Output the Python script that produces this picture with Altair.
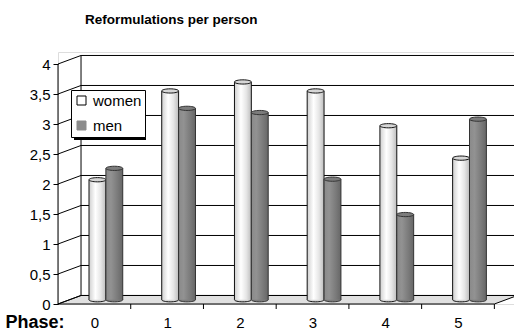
import altair as alt
import pandas as pd

# ---- data -------------------------------------------------------------
phases = [0, 1, 2, 3, 4, 5]
women = [2.00, 3.48, 3.63, 3.48, 2.90, 2.36]
men = [2.19, 3.19, 3.12, 2.01, 1.42, 3.01]
series = ["women", "men"]
y_ticks = [0, 0.5, 1, 1.5, 2, 2.5, 3, 3.5, 4]

# ---- geometry of the pseudo-3D frame ----------------------------------
W, H = 456, 252
X_MIN, X_MAX = -0.5, 5.77
Y_MAX = 4.2
DX = 0.3166          # depth offset along x (category units)
DY = 0.142           # depth offset along y (value units)
BAR_W = 0.232
SHIFT = DX / 2       # bars stand half way into the depth
BASE = DY / 2
X_END = phases[-1] + 0.5
FONT = "Liberation Sans"

xs = alt.Scale(domain=[X_MIN, X_MAX], nice=False, zero=False)
ys = alt.Scale(domain=[0, Y_MAX], nice=False, zero=False)

# one axis definition per channel, shared by every layer
X_AXIS = alt.Axis(
    values=phases, format="d", ticks=False, domain=False, grid=False,
    labelFont=FONT, labelFontSize=15, labelColor="black",
    labelBaseline="alphabetic", labelPadding=23,
    title="Phase:", titleFont=FONT, titleFontSize=18, titleFontWeight="bold",
    titleColor="black", titleAlign="left", titleBaseline="alphabetic",
    titleX=-53, titleY=23)
Y_AXIS = alt.Axis(
    values=y_ticks, domain=False, grid=False, tickSize=5, tickColor="black",
    labelExpr="replace(format(datum.value, '.1~f'), '.', ',')",
    labelFont=FONT, labelFontSize=15, labelColor="black", labelPadding=3,
    title=None)


def X(field):
    return alt.X(field, scale=xs, axis=X_AXIS)


def Y(field):
    return alt.Y(field, scale=ys, axis=Y_AXIS)


# bar table
rows = []
for i, p in enumerate(phases):
    for s, vals in (("women", women), ("men", men)):
        v = vals[i]
        x0 = p + SHIFT - BAR_W if s == "women" else p + SHIFT
        rows.append({"phase": p, "series": s, "value": v,
                     "x0": x0, "x1": x0 + BAR_W, "xc": x0 + BAR_W / 2,
                     "base": BASE, "top": v + BASE})
bars = pd.DataFrame(rows)

# floor parallelogram
floor = pd.DataFrame({
    "x": [X_MIN, X_MIN + DX, X_END, X_END + DX],
    "y": [0, 0, 0, DY],
    "y2": [0, DY, DY, DY],
})

# back wall gridlines and side-wall diagonals
grid = pd.DataFrame({"v": y_ticks})
grid["y"] = grid["v"] + DY
grid["xa"] = X_MIN
grid["xb"] = X_MIN + DX
grid["xe"] = X_END + DX

# wall edges: front-left axis line and back-left corner
edges = pd.DataFrame({
    "x": [X_MIN, X_MIN + DX],
    "y": [0, DY],
    "y2": [y_ticks[-1], y_ticks[-1] + DY],
})

# category boundary ticks below the front edge
bounds = pd.DataFrame({"b": [p + 0.5 for p in phases]})
bounds["y"] = 0.0
bounds["y2"] = -5 / 60

ellipse = "M-1,0A1,0.25 0 1,1 1,0A1,0.25 0 1,1 -1,0Z"
size_px = float((BAR_W * W / (X_MAX - X_MIN)) ** 2)

floor_layer = alt.Chart(floor).mark_area(
    fill="#e0e0e0", stroke="black", strokeWidth=1
).encode(x=X("x:Q"), y=Y("y:Q"), y2="y2:Q")

back_grid = alt.Chart(grid).mark_rule(color="black", strokeWidth=1).encode(
    x=X("xb:Q"), x2="xe:Q", y=Y("y:Q"))

diagonals = alt.Chart(grid).mark_rule(color="black", strokeWidth=1).encode(
    x=X("xa:Q"), x2="xb:Q", y=Y("v:Q"), y2="y:Q")

edge_layer = alt.Chart(edges).mark_rule(color="black").encode(
    x=X("x:Q"), y=Y("y:Q"), y2="y2:Q")

x_ticks = alt.Chart(bounds).mark_rule(color="black").encode(
    x=X("b:Q"), y=Y("y:Q"), y2="y2:Q")

women_grad = {
    "gradient": "linear", "x1": 0, "x2": 1, "y1": 0, "y2": 0,
    "stops": [{"color": "#cfcfcf", "offset": 0},
              {"color": "#ffffff", "offset": 0.38},
              {"color": "#e6e6e6", "offset": 0.7},
              {"color": "#bdbdbd", "offset": 1}]}
men_grad = {
    "gradient": "linear", "x1": 0, "x2": 1, "y1": 0, "y2": 0,
    "stops": [{"color": "#8a8a8a", "offset": 0},
              {"color": "#929292", "offset": 0.3},
              {"color": "#7a7a7a", "offset": 0.7},
              {"color": "#666666", "offset": 1}]}

fills = {"women": ("#d6d6d6", "#111111"), "men": ("#7c7c7c", "#333333")}
grads = {"women": women_grad, "men": men_grad}

bar_layers = []
for s in series:
    sub = alt.Chart(bars[bars["series"] == s])
    fill, edge = fills[s]
    bottom = sub.mark_point(shape=ellipse, size=size_px, filled=True,
                            fill=fill, stroke=edge, strokeWidth=1, opacity=1).encode(
        x=X("xc:Q"), y=Y("base:Q"))
    body = sub.mark_rect(fill=grads[s]).encode(
        x=X("x0:Q"), x2="x1:Q", y=Y("base:Q"), y2="top:Q")
    left = sub.mark_rule(color=edge).encode(
        x=X("x0:Q"), y=Y("base:Q"), y2="top:Q")
    right = sub.mark_rule(color=edge).encode(
        x=X("x1:Q"), y=Y("base:Q"), y2="top:Q")
    cap = sub.mark_point(shape=ellipse, size=size_px, filled=True,
                         fill=fill, stroke=edge, strokeWidth=1, opacity=1).encode(
        x=X("xc:Q"), y=Y("top:Q"))
    bar_layers += [bottom, body, left, right, cap]

# legend box shadow, then the legend itself from a hidden layer
shadow = alt.Chart(pd.DataFrame({"k": [0]})).mark_rect(color="black").encode(
    x=alt.value(16), x2=alt.value(88), y=alt.value(41), y2=alt.value(88),
)

legend_layer = alt.Chart(pd.DataFrame({"series": series, "p": [0, 0], "v": [0, 0]})).mark_square(
    opacity=0, size=81
).encode(
    x=X("p:Q"),
    y=Y("v:Q"),
    color=alt.Color("series:N", scale=alt.Scale(domain=series, range=["white", "#8c8c8c"]),
                    legend=alt.Legend(
                        orient="none", legendX=13, legendY=38, title=None,
                        fillColor="white", strokeColor="black", padding=3,
                        symbolType="square", symbolSize=81, symbolOpacity=1,
                        symbolStrokeWidth=1, labelFont=FONT, labelFontSize=15,
                        labelColor="black", labelOffset=4, rowPadding=9)),
    stroke=alt.Stroke("series:N", scale=alt.Scale(domain=series, range=["black", "#8c8c8c"]),
                      legend=None),
)

chart = alt.layer(
    floor_layer, back_grid, diagonals, edge_layer, x_ticks,
    *bar_layers, shadow, legend_layer,
).properties(
    width=W, height=H,
    padding={"left": 58, "top": 52, "right": 0, "bottom": 29},
    autosize=alt.AutoSizeParams(type="none"),
    title=alt.TitleParams("Reformulations per person", anchor="start", frame="group",
                          font=FONT, fontSize=13.5, fontWeight="bold", color="black",
                          baseline="alphabetic", offset=15, dx=27),
).configure_view(stroke=None).configure(background="white")

chart.save("out.html", embed_options={"renderer": "svg", "actions": False})
